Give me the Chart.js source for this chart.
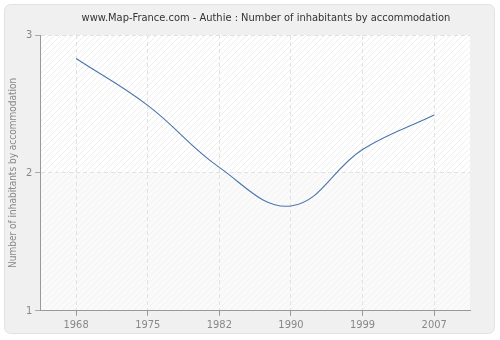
<!DOCTYPE html>
<html>
<head>
<meta charset="utf-8">
<script src="https://cdn.jsdelivr.net/npm/chart.js@4/dist/chart.umd.min.js"></script>
<style>
  body { margin: 0; background: #ffffff; }
  #wrap { width: 500px; height: 340px; }
</style>
</head>
<body>
<div id="wrap"><canvas id="myChart" width="500" height="340"></canvas></div>
<script>
// data
const years = ['1968', '1975', '1982', '1990', '1999', '2007'];
const inhabitants = [2.83, 2.49, 2.04, 1.76, 2.17, 2.42];
const yTicks = [1, 2, 3];

const titleText = 'www.Map-France.com - Authie : Number of inhabitants by accommodation';
const yTitle = 'Number of inhabitants by accommodation';
const fontName = '"DejaVu Sans Condensed", "DejaVu Sans", sans-serif';

// hatch pattern for the plot area
function makeHatch(bg, line) {
	const c = document.createElement('canvas');
	c.width = 6;
	c.height = 6;
	const g = c.getContext('2d');
	g.fillStyle = bg;
	g.fillRect(0, 0, 6, 6);
	g.strokeStyle = line;
	g.lineWidth = 1;
	g.beginPath();
	g.moveTo(0, 6);
	g.lineTo(6, 0);
	g.moveTo(-3, 3);
	g.lineTo(3, -3);
	g.moveTo(3, 9);
	g.lineTo(9, 3);
	g.stroke();
	return g.createPattern(c, 'repeat');
}

const background = {
	id: 'background',
	beforeDraw(chart) {
		const ctx = chart.ctx;
		const a = chart.chartArea;
		ctx.save();
		// outer panel
		ctx.fillStyle = '#f0f0f0';
		ctx.strokeStyle = '#e2e2e2';
		ctx.lineWidth = 1;
		ctx.beginPath();
		ctx.roundRect(4.5, 4.5, 490, 329, 6);
		ctx.fill();
		ctx.stroke();
		// plot area
		const y2 = chart.scales.y.getPixelForValue(2);
		ctx.fillStyle = makeHatch('#ffffff', '#eeeeee');
		ctx.fillRect(a.left, a.top, a.right - a.left, y2 - a.top);
		ctx.fillStyle = makeHatch('#fafafa', '#f2f2f2');
		ctx.fillRect(a.left, y2, a.right - a.left, a.bottom - y2);
		// title text
		ctx.fillStyle = '#333333';
		ctx.font = '11px ' + fontName;
		ctx.textAlign = 'center';
		ctx.textBaseline = 'middle';
		ctx.fillText(titleText, 266, 18);
		ctx.restore();
	}
};

const myChart = document.getElementById('myChart');

let lineChart = new Chart(myChart, {
	type: 'line',
	data: {
		labels: years,
		datasets: [{
			data: inhabitants,
			borderColor: '#4a76ac',
			borderWidth: 1.1,
			pointRadius: 0,
			tension: 0.4,
			fill: false
		}]
	},
	options: {
		responsive: false,
		animation: false,
		layout: { padding: { top: 35, right: 30, bottom: 5, left: 7 } },
		plugins: {
			legend: { display: false },
			tooltip: { enabled: false },
			title: { display: false }
		},
		scales: {
			x: {
				offset: true,
				grid: {
					color: '#e2e2e2',
					tickColor: '#999999',
					tickBorderDash: [1, 0],
					tickLength: 5
				},
				border: { color: '#999999', width: 1, dash: [4, 3] },
				ticks: {
					color: '#888888',
					font: { family: fontName, size: 11 },
					padding: 3,
					maxRotation: 0
				}
			},
			y: {
				min: 1,
				max: 3,
				afterBuildTicks(scale) {
					scale.ticks = yTicks.map(v => ({ value: v }));
				},
				grid: {
					color: '#e2e2e2',
					tickColor: '#999999',
					tickBorderDash: [1, 0],
					tickLength: 5
				},
				border: { color: '#999999', width: 1, dash: [4, 3] },
				ticks: {
					color: '#888888',
					font: { family: fontName, size: 11 },
					padding: 3
				},
				title: {
					display: true,
					text: yTitle,
					color: '#888888',
					font: { family: fontName, size: 10 },
					padding: { top: 0, bottom: 4 }
				}
			}
		}
	},
	plugins: [background]
});
</script>
</body>
</html>
